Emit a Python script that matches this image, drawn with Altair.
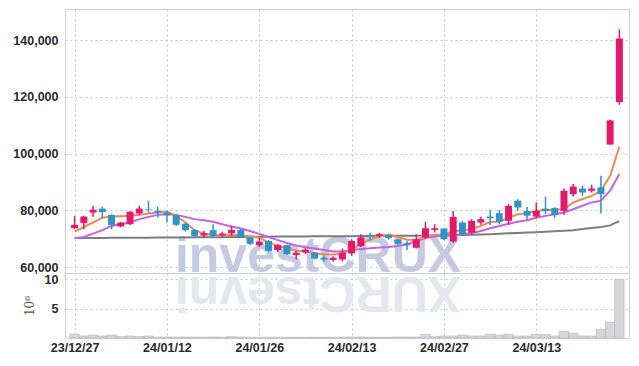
import altair as alt
import pandas as pd

dates = ["23/12/27", "23/12/28", "24/01/02", "24/01/03", "24/01/04", "24/01/05", "24/01/08", "24/01/09",
         "24/01/10", "24/01/11", "24/01/12", "24/01/15", "24/01/16", "24/01/17", "24/01/18", "24/01/19",
         "24/01/22", "24/01/23", "24/01/24", "24/01/25", "24/01/26", "24/01/29", "24/01/30", "24/01/31",
         "24/02/01", "24/02/02", "24/02/05", "24/02/06", "24/02/07", "24/02/08", "24/02/13", "24/02/14",
         "24/02/15", "24/02/16", "24/02/19", "24/02/20", "24/02/21", "24/02/22", "24/02/23", "24/02/26",
         "24/02/27", "24/02/28", "24/02/29", "24/03/04", "24/03/05", "24/03/06", "24/03/07", "24/03/08",
         "24/03/11", "24/03/12", "24/03/13", "24/03/14", "24/03/15", "24/03/18", "24/03/19", "24/03/20",
         "24/03/21", "24/03/22", "24/03/25", "24/03/26"]

opens = [73700, 75500, 79200, 80600, 78400, 74300, 75100, 78900, 80500, 79800,
         79200, 78300, 75300, 73100, 71100, 73000, 71200, 71900, 73100, 70400,
         67700, 69200, 66000, 67700, 64200, 65100, 65100, 63300, 62500, 62700,
         64800, 67400, 71200, 71000, 71300, 69700, 68400, 66800, 70400, 73100,
         73600, 69000, 75700, 72100, 75700, 77800, 79000, 76300, 83400, 79800,
         77800, 80600, 80800, 79800, 85700, 87700, 86900, 88100, 103200, 118200]
highs = [78050, 78050, 81600, 81300, 78600, 76000, 79800, 81600, 83400, 81300,
         79800, 78500, 75500, 73300, 72700, 75100, 72500, 74500, 73400, 70500,
         70400, 69500, 68000, 67900, 65700, 66600, 65300, 64100, 63800, 66500,
         69800, 71600, 72100, 72100, 71600, 69900, 69200, 71600, 76000, 75100,
         73700, 79800, 76300, 76900, 77700, 80100, 80100, 82200, 83900, 81200,
         82800, 84800, 81100, 87700, 89300, 88700, 89000, 92200, 111900, 143800]
lows = [73450, 73300, 77700, 77200, 73300, 74000, 74800, 78300, 79200, 77400,
        75700, 74500, 72500, 70600, 70200, 70200, 70400, 71000, 70200, 67800,
        67100, 65400, 65300, 64300, 62700, 64600, 62800, 61900, 61900, 62000,
        64000, 67100, 69400, 70300, 69700, 67900, 66000, 66500, 69800, 72200,
        69500, 68600, 71000, 71500, 74900, 74800, 75100, 74800, 79800, 76500,
        77400, 78700, 77400, 78400, 84900, 85100, 86300, 78900, 103000, 117200]
closes = [74860, 77800, 80200, 79400, 74800, 75700, 79500, 80600, 80300, 79200,
          78300, 74900, 73000, 71000, 71900, 71000, 71800, 73100, 70400, 68200,
          69000, 65700, 67800, 64500, 65000, 66100, 63000, 62700, 63300, 65100,
          69200, 70400, 70600, 71600, 70200, 68200, 67700, 69800, 73700, 73700,
          69800, 77700, 71600, 76300, 76900, 77200, 76000, 81600, 81000, 78100,
          79800, 79800, 78400, 86900, 88400, 86300, 87700, 85700, 111700, 140600]

ma_short = [72500, 74200, 75700, 77400, 77800, 77900, 78050, 78400, 78900, 79200,
            79600, 78050, 75700, 73000, 71800, 71200, 71200, 71300, 71200, 70900,
            70400, 68600, 67400, 66600, 65700, 65700, 64900, 64500, 64400, 64700,
            66200, 68000, 69700, 70800, 71500, 70600, 69600, 69500, 70600, 71400,
            71500, 72500, 73000, 73300, 74500, 75900, 76000, 77400, 78600, 79000,
            79800, 80100, 80100, 80400, 82800, 84000, 85100, 86900, 92200, 102500]
ma_mid = [70200, 70600, 71800, 73000, 74500, 75100, 75700, 76900, 77700, 78400,
          78600, 78400, 77700, 76900, 76500, 76000, 75100, 74300, 73600, 72700,
          71700, 70600, 69500, 68500, 67600, 67000, 66500, 66000, 65500, 65500,
          66000, 66400, 66600, 66900, 67100, 67400, 68000, 69200, 70200, 70800,
          71000, 71200, 71600, 72000, 72700, 73700, 74500, 75300, 76000, 76500,
          77400, 78050, 78600, 79200, 80400, 81600, 82800, 83400, 86900, 92800]
ma_long = [70200, 70200, 70250, 70250, 70300, 70300, 70300, 70350, 70350, 70400,
           70400, 70450, 70450, 70500, 70500, 70550, 70550, 70600, 70600, 70650,
           70700, 70700, 70750, 70750, 70800, 70800, 70850, 70850, 70900, 70900,
           70900, 70950, 70950, 71000, 71000, 71000, 71050, 71050, 71100, 71100,
           71150, 71200, 71300, 71400, 71500, 71600, 71750, 71900, 72000, 72150,
           72300, 72450, 72600, 72800, 73000, 73400, 73750, 74100, 74700, 76200]
volume_m = [0.68, 0.34, 0.5, 0.34, 0.5, 0.23, 0.34, 0.23, 0.34, 0.17,
            0.15, 0.15, 0.17, 0.15, 0.15, 0.17, 0.15, 0.25, 0.15, 0.12,
            0.12, 0.12, 0.12, 0.12, 0.12, 0.12, 0.12, 0.12, 0.12, 0.15,
            0.17, 0.17, 0.15, 0.12, 0.12, 0.17, 0.17, 0.17, 0.62, 0.23,
            0.34, 0.34, 0.5, 0.34, 0.34, 0.62, 0.5, 0.62, 0.34, 0.34,
            0.62, 0.62, 0.34, 1.13, 0.8, 0.34, 0.34, 1.47, 2.7, 9.94]

price_ticks = [60000, 80000, 100000, 120000, 140000]
volume_ticks = [5, 10]
date_tick_idx = [0, 10, 20, 30, 40, 50]
watermark = ["investCRUX"]
watermark_reflect = ["XURCtsevni"]

UP = "#e2196c"
DOWN = "#2f93c8"
LABEL_FONT = "Liberation Sans"

df = pd.DataFrame({
    "idx": list(range(len(dates))),
    "date": dates,
    "open": opens, "high": highs, "low": lows, "close": closes,
    "ma_short": ma_short, "ma_mid": ma_mid, "ma_long": ma_long,
    "vol": volume_m,
})
df["dir"] = ["up" if c >= o else "down" for o, c in zip(opens, closes)]

label_arr = "[" + ",".join("'" + d + "'" for d in dates) + "]"
label_expr = label_arr + "[datum.value]"

xscale = alt.Scale(domain=[-0.5, len(dates) - 0.5], nice=False, zero=False)
price_scale = alt.Scale(domain=[57900, 151000], nice=False, zero=False)
color_scale = alt.Scale(domain=["up", "down"], range=[UP, DOWN])

x_price = alt.X("idx:Q", scale=xscale,
                axis=alt.Axis(values=date_tick_idx, labels=False, title=None, grid=True))

base = alt.Chart(df)

wm = alt.Chart(pd.DataFrame({"t": watermark})).mark_text(
    font="Liberation Sans", fontWeight="bold", fontSize=50, color="#c4cae2",
    align="center", baseline="alphabetic", clip=True
).encode(text="t:N", x=alt.value(253), y=alt.value(263))

line_long = base.mark_line(color="#7d7d7d", strokeWidth=2).encode(
    x=x_price, y=alt.Y("ma_long:Q", scale=price_scale))
line_mid = base.mark_line(color="#c761e6", strokeWidth=2).encode(
    x=x_price, y=alt.Y("ma_mid:Q", scale=price_scale))
line_short = base.mark_line(color="#ee8a50", strokeWidth=2).encode(
    x=x_price, y=alt.Y("ma_short:Q", scale=price_scale))

wick = base.mark_rule(strokeWidth=1.5).encode(
    x=x_price,
    y=alt.Y("low:Q", scale=price_scale,
            axis=alt.Axis(values=price_ticks, format=",d", title=None, grid=True)),
    y2="high:Q",
    color=alt.Color("dir:N", scale=color_scale, legend=None),
)
body = base.mark_bar(size=7).encode(
    x=x_price,
    y=alt.Y("open:Q", scale=price_scale),
    y2="close:Q",
    color=alt.Color("dir:N", scale=color_scale, legend=None),
)

price = alt.layer(wm, line_long, line_mid, line_short, wick, body).properties(
    width=564, height=264)

wm2 = alt.Chart(pd.DataFrame({"t": watermark_reflect})).mark_text(
    font="Liberation Sans", fontWeight="bold", fontSize=50, color="#e4e6f0",
    align="center", baseline="alphabetic", angle=180, clip=True
).encode(text="t:N", x=alt.value(253), y=alt.value(4))

vol = base.mark_bar(size=9.4, color="#d6d6db", stroke="#b4b4bc", strokeWidth=0.6).encode(
    x=alt.X("idx:Q", scale=xscale,
            axis=alt.Axis(values=date_tick_idx, labelExpr=label_expr, title=None,
                          grid=True, labelFlush=False, labelPadding=3)),
    y=alt.Y("vol:Q", scale=alt.Scale(domain=[0, 11.05], nice=False),
            axis=alt.Axis(values=volume_ticks, title="10⁶", grid=True,
                          titleFont="DejaVu Serif", titleFontSize=12,
                          titleFontWeight="normal", titleColor="#555555",
                          titlePadding=8)),
)

volume = alt.layer(wm2, vol).properties(width=564, height=65)

chart = alt.vconcat(price, volume, spacing=0, bounds="flush").properties(
    padding={"left": 4, "top": 0, "right": 0, "bottom": 0}
).configure_view(
    stroke="#cfd0d8", strokeWidth=1
).configure_axis(
    labelFont=LABEL_FONT, labelFontSize=12.5, labelFontWeight="bold", labelColor="#2a2a2a",
    gridColor="#c3c6da", gridDash=[2, 3], gridWidth=1,
    domain=False, ticks=False, labelPadding=7, labelOverlap=False,
)

chart.save("out.html", embed_options={"renderer": "svg", "actions": False})
